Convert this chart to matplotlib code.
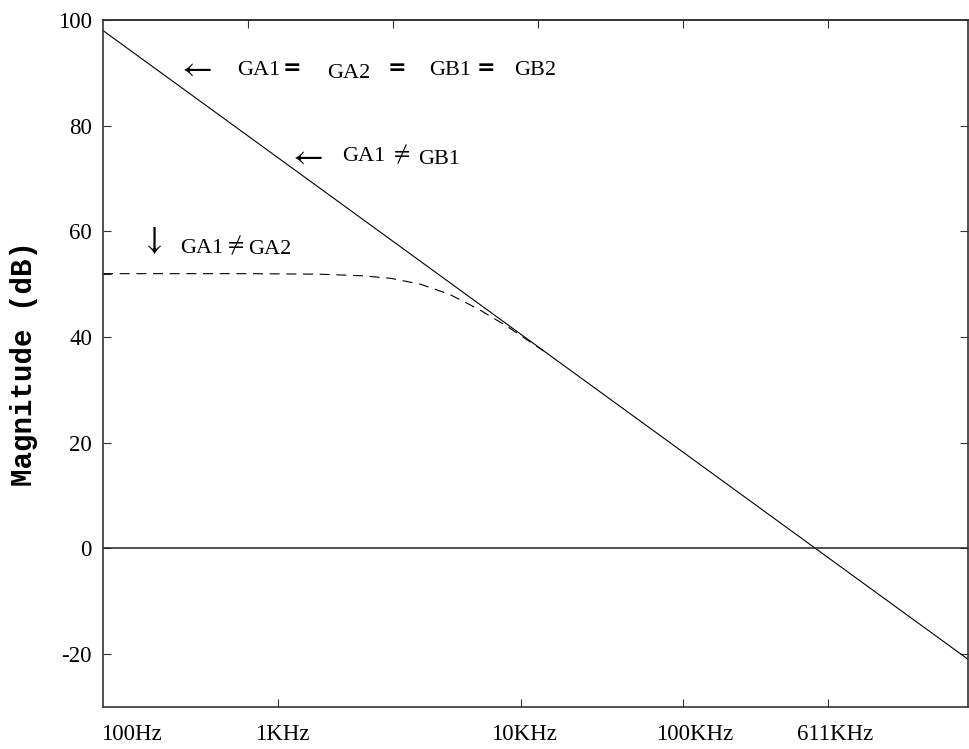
import numpy as np
import matplotlib
matplotlib.use('Agg')
import matplotlib.pyplot as plt
from matplotlib.ticker import FixedLocator, NullFormatter

# x is a position along the frequency axis (one unit per top tick)
line_x = [0.0, 5.97]
line_db = [98.0, -21.0]

# dashed curve
dash_x = [0.0, 0.99, 1.49, 1.79, 1.99, 2.19, 2.39, 2.59, 2.79, 2.99, 3.04]
dash_db = [52.0, 52.0, 51.9, 51.6, 51.1, 50.0, 48.1, 45.3, 42.0, 38.3, 37.4]

freq_ticks = [1.205, 2.885, 4.0, 5.0]
freq_label_pos = [0.193, 1.239, 2.905, 4.083, 5.053]
freq_labels = ['100Hz', '1KHz', '10KHz', '100KHz', '611KHz']
top_ticks = [1, 2, 3, 4, 5]
db_ticks = [-20, 0, 20, 40, 60, 80, 100]

serif = ['Liberation Serif', 'DejaVu Serif']
edge = '#333333'

fig = plt.figure(figsize=(9.7, 7.49), dpi=100)
ax = fig.add_axes([0.1062, 0.0561, 0.8918, 0.9172])

ax.plot(line_x, line_db, color='black', lw=0.8)
ax.plot(dash_x, dash_db, color='black', lw=0.8, dashes=(9, 6))
ax.axhline(0, color='#222222', lw=1.1)

ax.set_xlim(0, 5.969)
ax.set_ylim(-30, 100)

for s in ax.spines.values():
    s.set_linewidth(1.2)
    s.set_color(edge)

# y ticks
ax.yaxis.set_major_locator(FixedLocator(db_ticks))
ax.yaxis.set_minor_locator(FixedLocator([52]))
ax.set_yticklabels([str(v) for v in db_ticks], fontfamily=serif, fontsize=16.5)
ax.tick_params(axis='y', which='major', direction='in', length=6, width=0.8,
               color=edge, left=True, right=True, pad=8)
ax.tick_params(axis='y', which='minor', direction='in', length=6, width=0.8,
               color=edge, left=True, right=False)

# x ticks: marks at major, labels on zero-length minor ticks
ax.xaxis.set_major_locator(FixedLocator(freq_ticks))
ax.xaxis.set_major_formatter(NullFormatter())
ax.xaxis.set_minor_locator(FixedLocator(freq_label_pos))
ax.set_xticklabels(freq_labels, minor=True, fontfamily=serif, fontsize=16.5)
ax.tick_params(axis='x', which='major', direction='in', length=6, width=0.8,
               color=edge, top=False)
ax.tick_params(axis='x', which='minor', length=0, pad=12, top=False)

top = ax.secondary_xaxis('top')
top.set_xticks(top_ticks)
top.set_xticklabels([])
top.tick_params(direction='in', length=6, width=0.8, color=edge)
top.spines['top'].set_linewidth(1.2)
top.spines['top'].set_color(edge)

ax.set_ylabel('Magnitude (dB)', fontfamily='Liberation Mono', fontweight='bold',
              fontsize=21)
ax.yaxis.set_label_coords(-0.075, 0.5)

fs = 16
arrow_fs = 24
sym = 'DejaVu Sans'
def mtext(x, y, s, size):
    ax.text(x, y, s, fontsize=size, va='center', math_fontfamily='stix')

# row 1
mtext(0.51, 91.1, r'$\leftarrow$', arrow_fs)
ax.text(0.923, 89.6, 'GA1', fontfamily=serif, fontsize=fs, va='baseline')
ax.text(1.239, 90.9, '=', fontfamily=sym, fontweight='bold', fontsize=fs, va='center')
ax.text(1.549, 89.0, 'GA2', fontfamily=serif, fontsize=fs, va='baseline')
ax.text(1.962, 90.9, '=', fontfamily=sym, fontweight='bold', fontsize=fs, va='center')
ax.text(2.251, 89.6, 'GB1', fontfamily=serif, fontsize=fs, va='baseline')
ax.text(2.575, 90.9, '=', fontfamily=sym, fontweight='bold', fontsize=fs, va='center')
ax.text(2.837, 89.6, 'GB2', fontfamily=serif, fontsize=fs, va='baseline')
# row 2
mtext(1.274, 74.5, r'$\leftarrow$', arrow_fs)
ax.text(1.652, 73.3, 'GA1', fontfamily=serif, fontsize=fs, va='baseline')
mtext(1.98, 74.6, r'$\neq$', 17)
ax.text(2.176, 72.8, 'GB1', fontfamily=serif, fontsize=fs, va='baseline')
# row 3
mtext(0.26, 58.4, r'$\downarrow$', arrow_fs)
ax.text(0.530, 56.0, 'GA1', fontfamily=serif, fontsize=fs, va='baseline')
mtext(0.835, 57.4, r'$\neq$', 17)
ax.text(1.0, 55.8, 'GA2', fontfamily=serif, fontsize=fs, va='baseline')

fig.savefig('out.png', dpi=100)
